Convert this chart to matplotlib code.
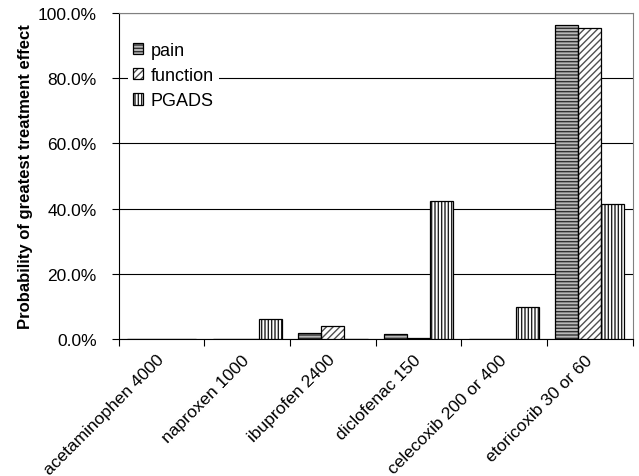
import matplotlib
matplotlib.use("Agg")
import matplotlib.pyplot as plt
from matplotlib.transforms import ScaledTranslation
from matplotlib.legend_handler import HandlerTuple
import numpy as np

plt.rcParams['font.family'] = ['Liberation Sans', 'DejaVu Sans']
plt.rcParams['hatch.linewidth'] = 1.0

drugs = ["acetaminophen 4000", "naproxen 1000", "ibuprofen 2400",
         "diclofenac 150", "celecoxib 200 or 400", "etoricoxib 30 or 60"]
pain = [0.0, 0.0, 2.0, 1.7, 0.0, 96.2]
function = [0.0, 0.0, 4.0, 0.3, 0.0, 95.5]
pgads = [0.0, 6.3, 0.0, 42.2, 9.8, 41.5]

fig = plt.figure(figsize=(6.39, 4.77), dpi=100)
ax = fig.add_axes([0.186, 0.287, 0.804, 0.684])

x = np.arange(len(drugs))
w = 0.27
styles = [
    (pain, -w, "#b8b8b8", "#303030", "-----"),
    (function, 0, "white", "#505050", "/////"),
    (pgads, w, "white", "#202020", "|||||"),
]
handles = []
for vals, off, fc, hc, hatch in styles:
    b1 = ax.bar(x + off, vals, w, color=fc, edgecolor=hc, hatch=hatch,
                linewidth=0, zorder=3)
    b2 = ax.bar(x + off, vals, w, fill=False, edgecolor="black",
                linewidth=0.9, zorder=4)
    handles.append((b1[0], b2[0]))

ax.set_xlim(-0.5, len(drugs) - 0.5)
ax.set_ylim(0, 100)
ax.set_yticks(np.arange(0, 101, 20))
ax.set_yticklabels([f"{v:.1f}%" for v in range(0, 101, 20)], fontsize=12.5)
ax.yaxis.grid(True, color="black", linewidth=0.8, zorder=0)

ax.set_xticks(np.arange(-0.5, len(drugs), 1.0))
ax.set_xticklabels([])
ax.set_xticks(x, minor=True)
ax.set_xticklabels(drugs, minor=True, rotation=45, ha="right", va="center",
                   rotation_mode="anchor", fontsize=12.5)
shift = ScaledTranslation(-0.06, 0, fig.dpi_scale_trans)
for t in ax.get_xticklabels(minor=True):
    t.set_transform(t.get_transform() + shift)
ax.tick_params(axis="x", which="minor", length=0, pad=13)
ax.tick_params(axis="x", which="major", length=5, direction="out")
ax.tick_params(axis="y", length=5, direction="out", pad=11)

ax.set_ylabel("Probability of greatest treatment effect", fontsize=12,
              fontweight="bold", labelpad=3)

for s in ["top", "right"]:
    ax.spines[s].set_color("#808080")
for s in ["left", "bottom"]:
    ax.spines[s].set_color("black")

leg = ax.legend(handles, ["pain", "function", "PGADS"],
                handler_map={tuple: HandlerTuple(ndivide=1, pad=0)},
                loc="upper left", bbox_to_anchor=(0.0, 0.955), frameon=True,
                facecolor="white", edgecolor="none", framealpha=1,
                fancybox=False, borderpad=0.3,
                fontsize=13, handlelength=0.55, handleheight=0.6,
                handletextpad=0.4, labelspacing=0.45)
leg.set_zorder(5)

fig.savefig("out.png", dpi=100)
